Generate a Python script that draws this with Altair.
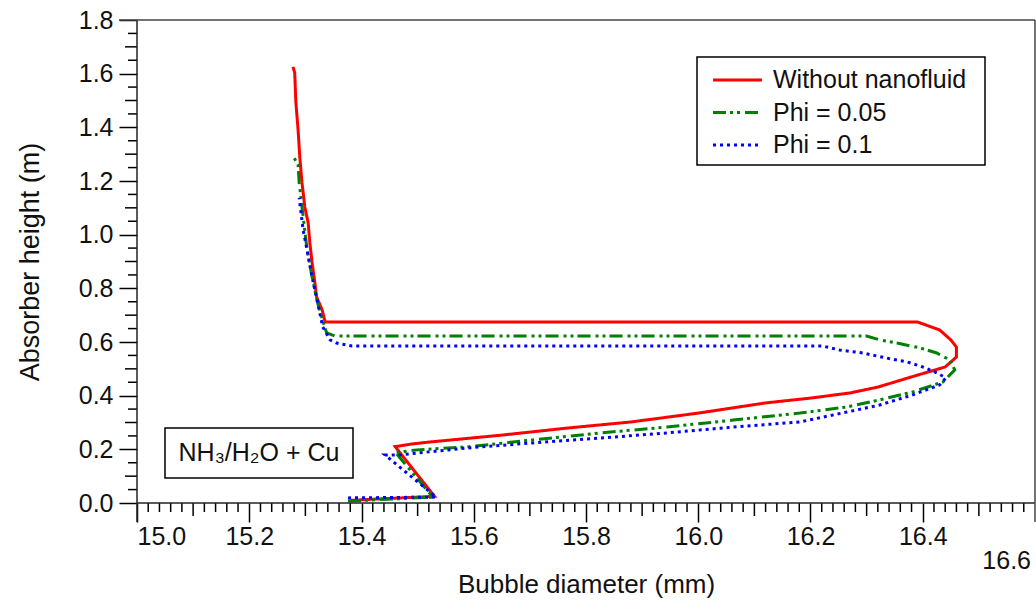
import altair as alt
import pandas as pd

series_names = ["Without nanofluid", "Phi = 0.05", "Phi = 0.1"]
series_colors = ["#ff0000", "#008000", "#0000ff"]
series_dashes = [[1, 0], [13, 4, 3, 4, 3, 5], [3, 4]]

red_d = [15.38, 15.53, 15.46, 15.49, 15.52, 15.65, 15.77, 15.88, 16.00, 16.12, 16.20, 16.27,
         16.32, 16.38, 16.44, 16.46, 16.46, 16.45, 16.43, 16.39, 15.335, 15.33, 15.32, 15.317,
         15.312, 15.308, 15.305, 15.299, 15.294, 15.29, 15.287, 15.283, 15.281, 15.278]
red_h = [0.01, 0.025, 0.21, 0.22, 0.227, 0.253, 0.28, 0.302, 0.335, 0.373, 0.391, 0.41,
         0.432, 0.47, 0.507, 0.544, 0.581, 0.608, 0.645, 0.675, 0.675, 0.719, 0.768, 0.82,
         0.895, 0.969, 1.044, 1.103, 1.193, 1.29, 1.39, 1.495, 1.603, 1.625]

green_d = [15.376, 15.527, 15.46, 15.468, 15.499, 15.588, 15.705, 15.825, 15.944, 16.062,
           16.181, 16.265, 16.323, 16.382, 16.436, 16.457, 16.448, 16.425, 16.395, 16.354,
           16.323, 16.30, 15.353, 15.338, 15.335, 15.322, 15.312, 15.303, 15.294, 15.289,
           15.287, 15.28]
green_h = [0.007, 0.022, 0.19, 0.19, 0.198, 0.209, 0.235, 0.261, 0.283, 0.309,
           0.335, 0.358, 0.384, 0.414, 0.451, 0.496, 0.533, 0.559, 0.578, 0.596,
           0.608, 0.622, 0.622, 0.634, 0.652, 0.745, 0.842, 0.943, 1.103, 1.193,
           1.26, 1.286]

blue_d = [15.376, 15.533, 15.442, 15.468, 15.499, 15.588, 15.705, 15.825, 15.944, 16.062,
          16.181, 16.265, 16.323, 16.382, 16.43, 16.441, 16.425, 16.40, 16.372, 16.336,
          16.293, 16.252, 16.222, 15.383, 15.356, 15.344, 15.331, 15.322, 15.312, 15.303,
          15.296, 15.289]
blue_h = [0.019, 0.022, 0.179, 0.179, 0.186, 0.205, 0.224, 0.242, 0.261, 0.283,
          0.302, 0.339, 0.365, 0.403, 0.44, 0.466, 0.485, 0.507, 0.526, 0.54,
          0.559, 0.57, 0.585, 0.585, 0.596, 0.608, 0.656, 0.745, 0.842, 0.943,
          1.017, 1.137]

x_major = [15.0, 15.2, 15.4, 15.6, 15.8, 16.0, 16.2, 16.4]
x_last_label = [16.6]
y_major = [0.0, 0.2, 0.4, 0.6, 0.8, 1.0, 1.2, 1.4, 1.6, 1.8]
x_medium = [round(15.1 + 0.2 * k, 2) for k in range(8)]
x_minor = [round(15.0 + 0.02 * k, 2) for k in range(81) if k % 5 != 0]
y_medium = [round(0.1 + 0.2 * k, 2) for k in range(9)]
y_minor = [round(0.05 + 0.1 * k, 2) for k in range(18)]

annotation = "NH\u2083/H\u2082O + Cu"

W, H = 898, 483
FONT = "Liberation Sans"
TXT = "#111"

rows = []
for name, xs, ys in zip(series_names, [red_d, green_d, blue_d], [red_h, green_h, blue_h]):
    for i, (a, b) in enumerate(zip(xs, ys)):
        rows.append({"series": name, "d": a, "h": b, "i": i})
df = pd.DataFrame(rows)

xscale = alt.Scale(domain=[15.0, 16.6], nice=False, zero=False)
yscale = alt.Scale(domain=[0.0, 1.8], nice=False, zero=False)

lines = alt.Chart(df).mark_line(strokeWidth=3).encode(
    x=alt.X("d:Q", scale=xscale, title="Bubble diameter (mm)",
            axis=alt.Axis(values=x_major, format=".1f", tickSize=19, domain=False,
                          labelPadding=2, titlePadding=22, titleFontSize=26)),
    y=alt.Y("h:Q", scale=yscale, title="Absorber height (m)",
            axis=alt.Axis(values=y_major, format=".1f", tickSize=18, domain=False,
                          labelPadding=6, titlePadding=34, titleFontSize=27)),
    color=alt.Color("series:N", scale=alt.Scale(domain=series_names, range=series_colors),
                    legend=None),
    strokeDash=alt.StrokeDash("series:N",
                              scale=alt.Scale(domain=series_names, range=series_dashes),
                              legend=None),
    order="i:Q",
)

def xticks(vals, length):
    return alt.Chart(pd.DataFrame({"v": vals})).mark_rule(color="#000", strokeWidth=1.5).encode(
        x=alt.X("v:Q", scale=xscale), y=alt.value(H), y2=alt.value(H + length))

def yticks(vals, length):
    return alt.Chart(pd.DataFrame({"v": vals})).mark_rule(color="#000", strokeWidth=1.5).encode(
        y=alt.Y("v:Q", scale=yscale), x=alt.value(0), x2=alt.value(-length))

one = pd.DataFrame({"a": [0]})
frame_color = "#222"
left_line = alt.Chart(one).mark_rule(color=frame_color, strokeWidth=1.5).encode(
    x=alt.value(0), y=alt.value(0), y2=alt.value(H + 19))
bottom_line = alt.Chart(one).mark_rule(color=frame_color, strokeWidth=1.5).encode(
    x=alt.value(0), x2=alt.value(W), y=alt.value(H))
top_line = alt.Chart(one).mark_rule(color="#444", strokeWidth=1.5).encode(
    x=alt.value(-18), x2=alt.value(W), y=alt.value(0))
right_line = alt.Chart(one).mark_rule(color="#444", strokeWidth=1.5).encode(
    x=alt.value(W), y=alt.value(0), y2=alt.value(H + 19))

last_label = alt.Chart(pd.DataFrame({"v": x_last_label})).mark_text(
    font=FONT, fontSize=25, color=TXT, align="right", baseline="middle", dx=-4
).encode(x=alt.X("v:Q", scale=xscale), y=alt.value(H + 58),
         text=alt.Text("v:Q", format=".1f"))

box = alt.Chart(one).mark_rect(fill="white", stroke="#000", strokeWidth=1.5).encode(
    x=alt.value(28), x2=alt.value(216), y=alt.value(408), y2=alt.value(458))
box_text = alt.Chart(pd.DataFrame({"t": [annotation]})).mark_text(
    font=FONT, fontSize=25, color=TXT, align="center", baseline="middle"
).encode(x=alt.value(122), y=alt.value(433), text="t:N")

# legend box (decoration)
LX, LY, LW, LH = 560, 37, 288, 108
legend_box = alt.Chart(one).mark_rect(fill="white", stroke="#000", strokeWidth=1.5).encode(
    x=alt.value(LX), x2=alt.value(LX + LW), y=alt.value(LY), y2=alt.value(LY + LH))
legend_layers = [legend_box]
for k, (name, col, dash) in enumerate(zip(series_names, series_colors, series_dashes)):
    yy = LY + 23 + 32.5 * k
    legend_layers.append(
        alt.Chart(one).mark_rule(color=col, strokeWidth=3, strokeDash=dash).encode(
            x=alt.value(LX + 16), x2=alt.value(LX + 65), y=alt.value(yy)))
    legend_layers.append(
        alt.Chart(pd.DataFrame({"t": [name]})).mark_text(
            font=FONT, fontSize=25, color=TXT, align="left", baseline="middle"
        ).encode(x=alt.value(LX + 76), y=alt.value(yy), text="t:N"))

chart = alt.layer(
    lines, xticks(x_minor, 9), xticks(x_medium, 13), yticks(y_minor, 9), yticks(y_medium, 12),
    left_line, bottom_line, top_line, right_line, last_label, box, box_text, *legend_layers
).properties(
    width=W, height=H,
    autosize=alt.AutoSizeParams(type="none"),
    padding={"left": 137, "top": 20, "right": 1, "bottom": 107},
).configure_view(stroke=None).configure_axis(
    labelFont=FONT, labelFontSize=25, labelColor=TXT,
    titleFont=FONT, titleColor=TXT, titleFontWeight="normal",
    tickColor="#000", tickWidth=1.5, grid=False,
)

chart.save("out.html", embed_options={"renderer": "svg", "actions": False})
